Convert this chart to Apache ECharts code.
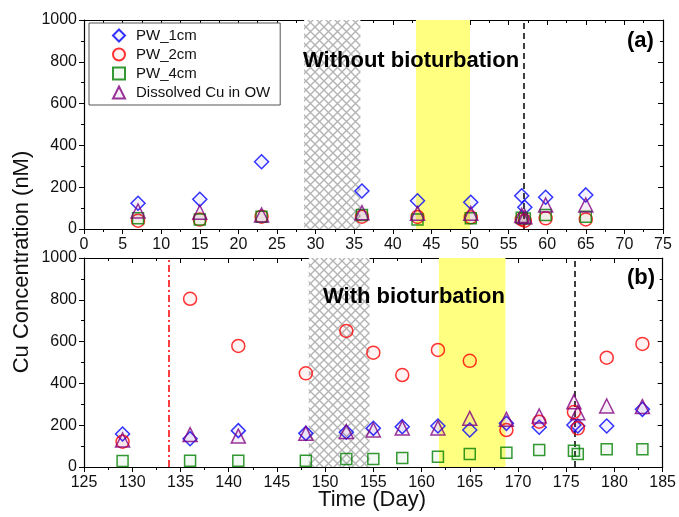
<!DOCTYPE html>
<html>
<head>
<meta charset="utf-8">
<script src="https://cdn.jsdelivr.net/npm/echarts@6/dist/echarts.min.js"></script>
<style>
  html, body { margin: 0; padding: 0; background: #fff; }
  #chart { width: 679px; height: 517px; }
</style>
</head>
<body>
<div id="chart"></div>
<script>
// panel (a): without bioturbation
var topDays = [7, 15, 23, 36, 43.2, 50.1, 56.7, 57.1, 59.8, 65];
var topPW1 = [123, 142, 322, 182, 135, 128, 159, 104, 152, 163];
var topPW2 = [40, 45, 59, 59, 58, 56, 46, 40, 51, 46];
var topPW4 = [51, 46, 59, 67, 46, 51, 54, 50, 67, 59];
var topOW = [86, 80, 67, 78, 75, 75, 65, 59, 115, 115];

// panel (b): with bioturbation
var botDays = [129, 136, 141, 148, 152.2, 155, 158, 161.7, 165, 168.8, 172.2, 175.8, 176.2, 179.2, 182.9];
var botPW1 = [158, 135, 174, 161, 166, 185, 193, 196, 177, 209, 190, 201, 196, 196, 276];
var botPW2 = [121, 805, 579, 448, 651, 547, 440, 560, 508, 177, 217, 263, 185, 523, 589];
var botPW4 = [29, 30, 30, 30, 38, 38, 43, 49, 62, 68, 81, 78, 62, 85, 85];
var botOW = [129, 155, 148, 161, 170, 177, 187, 187, 233, 228, 244, 312, 260, 292, 289];

// shaded periods and markers (days)
var topHatch = [28.5, 35.8];
var topYellow = [43.0, 50.0];
var topDash = 56.9;
var botHatch = [148.3, 154.6];
var botYellow = [161.8, 168.7];
var botDash = 175.9;
var botRedLine = 133.8;

var seriesNames = ['PW_1cm', 'PW_2cm', 'PW_4cm', 'Dissolved Cu in OW'];
var xTicksTop = [0, 75, 5];
var xTicksBot = [125, 185, 5];
var yTicks = [0, 1000, 200];

var FONT = 'Liberation Sans, Arial, sans-serif';

var chartMgr = {

    hatch: function () {
        var n = 9;
        var c = document.createElement('canvas');
        c.width = n; c.height = n;
        var ctx = c.getContext('2d');
        ctx.fillStyle = '#fff';
        ctx.fillRect(0, 0, n, n);
        ctx.strokeStyle = '#b4b4b4';
        ctx.lineWidth = 1.4;
        ctx.beginPath();
        ctx.moveTo(0, 0); ctx.lineTo(n, n);
        ctx.moveTo(n, 0); ctx.lineTo(0, n);
        ctx.stroke();
        return { image: c, repeat: 'repeat' };
    },

    pts: function (days, vals) {
        return days.map(function (d, i) { return [d, vals[i]]; });
    },

    scatter: function (idx, days, vals, g) {
        var styles = [
            { symbol: 'diamond', size: 14, color: '#0000ff', fill: 'rgba(0,0,255,0.06)' },
            { symbol: 'circle', size: 13, color: '#ff0000', fill: 'rgba(255,0,0,0.06)' },
            { symbol: 'rect', size: 11, color: '#008000', fill: 'rgba(0,128,0,0.06)' },
            { symbol: 'triangle', size: 14, color: '#800080', fill: 'rgba(128,0,128,0.08)' }
        ];
        var s = styles[idx];
        return {
            name: seriesNames[idx],
            type: 'scatter',
            xAxisIndex: g * 2,
            yAxisIndex: g * 2,
            symbol: s.symbol,
            symbolSize: s.size,
            z: 5,
            itemStyle: { color: s.fill, borderColor: s.color, borderWidth: 1.5 },
            data: chartMgr.pts(days, vals)
        };
    },

    xAxes: function (g, t) {
        var base = {
            gridIndex: g, type: 'value', min: t[0], max: t[1], interval: t[2],
            splitLine: { show: false },
            axisLine: { onZero: false, lineStyle: { color: '#000', width: 1.2 } }
        };
        var bottom = Object.assign({}, base, {
            position: 'bottom',
            axisTick: { inside: false, length: 5, lineStyle: { color: '#000' } },
            minorTick: { show: true, splitNumber: 2, length: 3, lineStyle: { color: '#000' } },
            axisLabel: { fontSize: 16, color: '#111', fontFamily: FONT, margin: 8 }
        });
        var top = Object.assign({}, base, {
            position: 'top',
            axisTick: { inside: true, length: 5, lineStyle: { color: '#000' } },
            minorTick: { show: true, splitNumber: 2, length: 3, lineStyle: { color: '#000' } },
            axisLabel: { show: false }
        });
        return [bottom, top];
    },

    yAxes: function (g) {
        var base = {
            gridIndex: g, type: 'value', min: yTicks[0], max: yTicks[1], interval: yTicks[2],
            splitLine: { show: false },
            axisLine: { show: true, onZero: false, lineStyle: { color: '#000', width: 1.2 } }
        };
        var left = Object.assign({}, base, {
            position: 'left',
            axisTick: { show: true, inside: false, length: 5, lineStyle: { color: '#000' } },
            minorTick: { show: true, splitNumber: 2, length: 3, lineStyle: { color: '#000' } },
            axisLabel: { fontSize: 16, color: '#111', fontFamily: FONT, margin: 7,
                         formatter: function (v) { return String(v); } }
        });
        var right = Object.assign({}, base, {
            position: 'right',
            axisTick: { show: true, inside: true, length: 5, lineStyle: { color: '#000' } },
            minorTick: { show: true, splitNumber: 2, length: 3, lineStyle: { color: '#000' } },
            axisLabel: { show: false }
        });
        return [left, right];
    },

    shading: function (g, hatch, yellow, lines) {
        return {
            type: 'scatter',
            xAxisIndex: g * 2,
            yAxisIndex: g * 2,
            data: [],
            z: 1,
            silent: true,
            markArea: {
                silent: true,
                data: [
                    [{ xAxis: hatch[0], itemStyle: { color: chartMgr.hatch() } }, { xAxis: hatch[1] }],
                    [{ xAxis: yellow[0], itemStyle: { color: '#ffff80' } }, { xAxis: yellow[1] }]
                ]
            },
            markLine: {
                silent: true,
                symbol: 'none',
                label: { show: false },
                data: lines
            }
        };
    },

    init: function () {
        var myChart = echarts.init(document.getElementById('chart'));
        var xa = chartMgr.xAxes(0, xTicksTop).concat(chartMgr.xAxes(1, xTicksBot));
        var ya = chartMgr.yAxes(0).concat(chartMgr.yAxes(1));

        var series = [
            chartMgr.shading(0, topHatch, topYellow, [
                { xAxis: topDash, lineStyle: { color: '#000', type: [6, 4], width: 1.5 } }
            ]),
            chartMgr.shading(1, botHatch, botYellow, [
                { xAxis: botDash, lineStyle: { color: '#000', type: [6, 4], width: 1.5 } },
                { xAxis: botRedLine, lineStyle: { color: '#ff0000', type: [7, 3, 2, 3], width: 1.5 } }
            ]),
            chartMgr.scatter(0, topDays, topPW1, 0),
            chartMgr.scatter(1, topDays, topPW2, 0),
            chartMgr.scatter(2, topDays, topPW4, 0),
            chartMgr.scatter(3, topDays, topOW, 0),
            chartMgr.scatter(0, botDays, botPW1, 1),
            chartMgr.scatter(1, botDays, botPW2, 1),
            chartMgr.scatter(2, botDays, botPW4, 1),
            chartMgr.scatter(3, botDays, botOW, 1)
        ];

        var option = {
            backgroundColor: '#fff',
            animation: false,
            textStyle: { fontFamily: FONT },
            grid: [
                { left: 84, top: 20, width: 579, height: 209 },
                { left: 84, top: 258, width: 579, height: 209 }
            ],
            xAxis: xa,
            yAxis: ya,
            legend: {
                data: seriesNames,
                orient: 'vertical',
                left: 89,
                top: 23,
                padding: [5, 10, 5, 23],
                itemWidth: 12,
                itemHeight: 12,
                itemGap: 4,
                borderColor: '#555',
                borderWidth: 1,
                backgroundColor: '#fff',
                textStyle: { fontSize: 15, color: '#111', fontFamily: FONT, padding: [0, 0, 0, 6] }
            },
            graphic: [
                { type: 'text', left: 303, top: 50, z: 10,
                  style: { text: 'Without bioturbation', font: 'bold 22px ' + FONT, fill: '#000' } },
                { type: 'text', left: 323, top: 286, z: 10,
                  style: { text: 'With bioturbation', font: 'bold 22px ' + FONT, fill: '#000' } },
                { type: 'text', left: 627, top: 30, z: 10,
                  style: { text: '(a)', font: 'bold 22px ' + FONT, fill: '#000' } },
                { type: 'text', left: 627, top: 267, z: 10,
                  style: { text: '(b)', font: 'bold 22px ' + FONT, fill: '#000' } },
                { type: 'text', x: 22, y: 262, rotation: Math.PI / 2, z: 10,
                  style: { text: 'Cu Concentration (nM)', font: '22px ' + FONT, fill: '#111',
                           align: 'center', verticalAlign: 'middle' } },
                { type: 'text', x: 372, y: 500, z: 10,
                  style: { text: 'Time (Day)', font: '22px ' + FONT, fill: '#111',
                           align: 'center', verticalAlign: 'middle' } }
            ],
            series: series
        };

        myChart.setOption(option);
    }
};

chartMgr.init();
</script>
</body>
</html>
